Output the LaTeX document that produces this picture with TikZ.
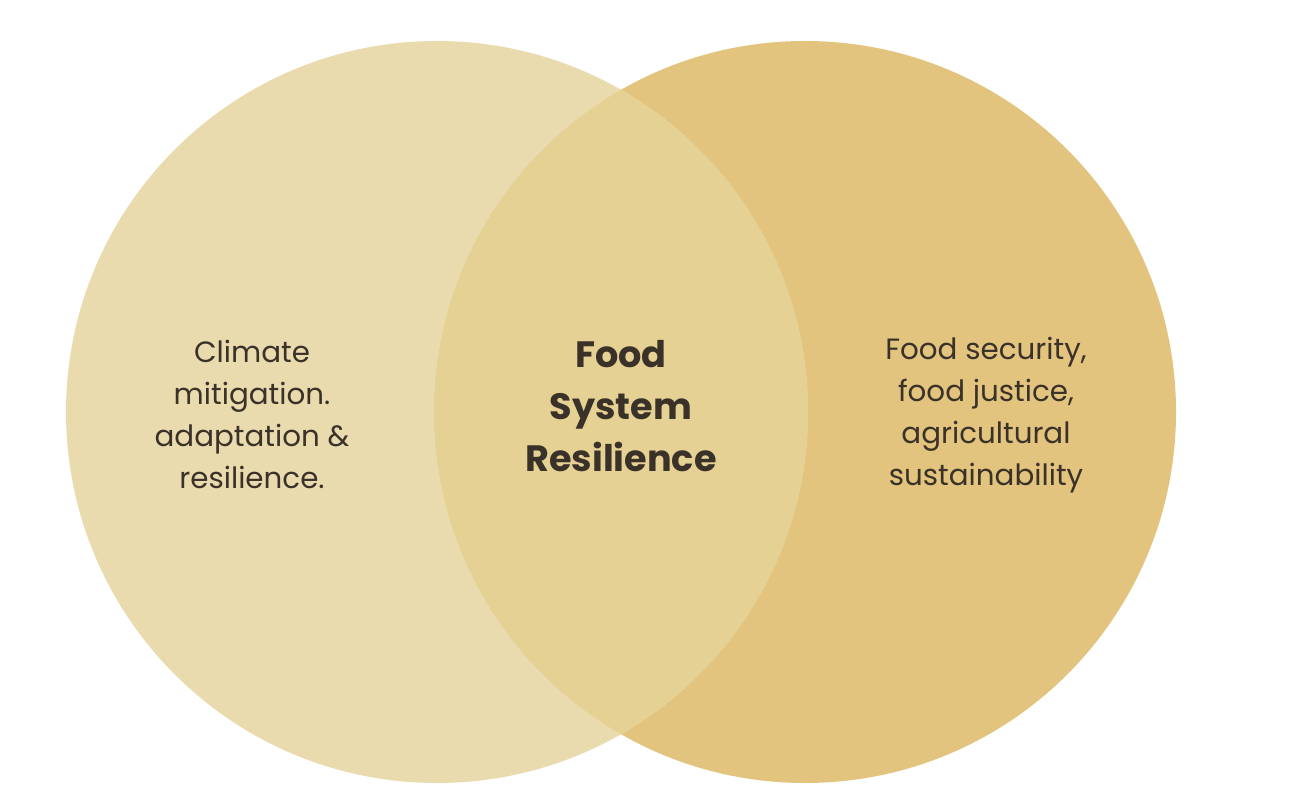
\documentclass[tikz,border=0pt]{standalone}
\usepackage{fontspec}
\setmainfont{Poppins}
\definecolor{leftsand}{HTML}{EADBAF}
\definecolor{rightsand}{HTML}{E2C47E}
\definecolor{midsand}{HTML}{E6D194}
\definecolor{ink}{HTML}{3A3229}
\begin{document}
\begin{tikzpicture}[x=0.75pt,y=0.75pt,
	label/.style={align=center,text=ink,font=\fontsize{22pt}{31.5pt}\selectfont},
	core/.style={align=center,text=ink,font=\bfseries\fontsize{27.5pt}{39pt}\selectfont}]
	% Frame
	\useasboundingbox[fill=white] (0,0) rectangle (1306,800);
	
	% Draw circles
	\fill[rightsand] (805,388) circle[radius=278.25pt]; % right circle
	\fill[leftsand] (437,388) circle[radius=278.25pt]; % left circle
	\begin{scope}
		\clip (437,388) circle[radius=278.25pt];
		\fill[midsand] (805,388) circle[radius=278.25pt]; % overlap
	\end{scope}
	
	% Add labels
	\node[label] (climate) at (252,386) {Climate\\mitigation.\\adaptation \&\\resilience.};
	\node[core] (resilience) at (621,394) {Food\\System\\Resilience};
	\node[label] (food) at (986,385) {Food security,\\food justice,\\agricultural\\sustainability};
\end{tikzpicture}
\end{document}
